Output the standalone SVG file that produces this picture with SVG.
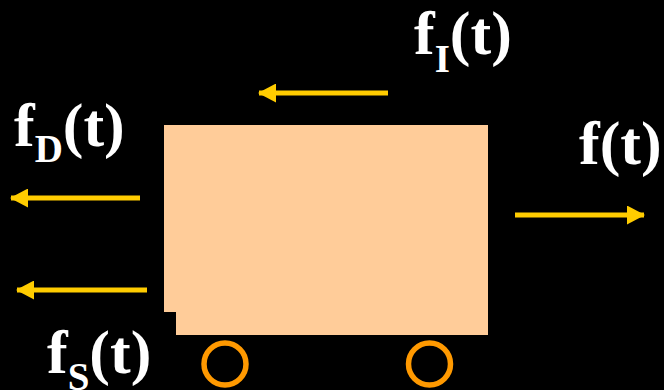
<svg xmlns="http://www.w3.org/2000/svg" width="664" height="390" viewBox="0 0 664 390">
<defs>
<style>
.lbl{font-family:"Liberation Serif","Times New Roman",serif;font-weight:bold;fill:#FFFFFF;font-size:62px}
.sub{font-size:39px}
.arr{stroke:#FFCC00;stroke-width:5;fill:none}
.wheel{fill:none;stroke:#FF9900;stroke-width:5.5}
</style>
<marker id="ah" markerWidth="18" markerHeight="19" refX="17" refY="9.5" orient="auto" markerUnits="userSpaceOnUse">
<path d="M0,0 L18,9.5 L0,19 Z" fill="#FFCC00"/>
</marker>
</defs>
<rect width="664" height="390" fill="#000000"/>
<g id="mass">
<path d="M164,125 H488 V335 H176 V312 H164 Z" fill="#FFCC99"/>
</g>
<g id="wheel1"><circle class="wheel" cx="225" cy="364" r="21"/></g>
<g id="wheel2"><circle class="wheel" cx="429.5" cy="364" r="21"/></g>
<g id="connectors">
<line class="arr" x1="388" y1="93" x2="259" y2="93" marker-end="url(#ah)"/>
<line class="arr" x1="140" y1="198" x2="11" y2="198" marker-end="url(#ah)"/>
<line class="arr" x1="147" y1="290" x2="17" y2="290" marker-end="url(#ah)"/>
<line class="arr" x1="515" y1="215" x2="644" y2="215" marker-end="url(#ah)"/>
</g>
<g id="label-fI"><text class="lbl" x="414" y="54">f<tspan class="sub" dy="18">I</tspan><tspan dy="-18">(t)</tspan></text></g>
<g id="label-fD"><text class="lbl" x="14" y="146">f<tspan class="sub" dy="16">D</tspan><tspan dy="-16">(t)</tspan></text></g>
<g id="label-f"><text class="lbl" x="579" y="164">f(t)</text></g>
<g id="label-fS"><text class="lbl" x="47" y="373">f<tspan class="sub" dy="17">S</tspan><tspan dy="-17">(t)</tspan></text></g>
</svg>
